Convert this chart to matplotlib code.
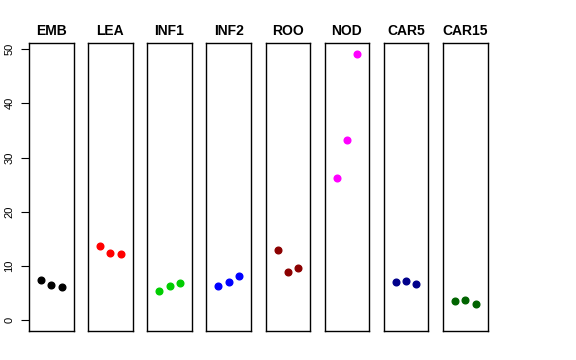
import matplotlib
matplotlib.use("Agg")
import matplotlib.pyplot as plt
import numpy as np

# tissues and their three replicate values
tissues = ["EMB", "LEA", "INF1", "INF2", "ROO", "NOD", "CAR5", "CAR15"]
emb = [7.5, 6.45, 6.15]
lea = [13.65, 12.45, 12.25]
inf1 = [5.35, 6.3, 6.95]
inf2 = [6.25, 7.1, 8.1]
roo = [12.9, 8.85, 9.7]
nod = [26.3, 33.3, 49.1]
car5 = [7.1, 7.3, 6.7]
car15 = [3.55, 3.7, 3.0]
values = [emb, lea, inf1, inf2, roo, nod, car5, car15]
colors = ["black", "red", "#00CD00", "blue", "#8B0000", "magenta", "#00008B", "#006400"]
yticks = [0, 10, 20, 30, 40, 50]

plt.rcParams["font.family"] = ["Liberation Sans", "DejaVu Sans"]

W, H = 576, 360
fig = plt.figure(figsize=(W / 100, H / 100), dpi=100)

left0 = 29
step = 59.15
pw = 44.5
top, bottom = 43, 331

for i, (name, vals, col) in enumerate(zip(tissues, values, colors)):
    x0 = left0 + i * step
    ax = fig.add_axes([x0 / W, (H - bottom) / H, pw / W, (bottom - top) / H])
    ax.plot([1, 2, 3], vals, "o", color=col, markersize=4.8, linestyle="none")
    ax.set_xlim(-0.16, 4.16)
    ax.set_ylim(-1.97, 51.1)
    ax.set_xticks([])
    for s in ax.spines.values():
        s.set_linewidth(1.0)
        s.set_color("black")
    ax.set_title(name, fontsize=10, fontweight="bold", pad=6)
    if i == 0:
        ax.set_yticks(yticks)
        ax.set_yticklabels([str(t) for t in yticks], rotation=90, va="center", fontsize=8)
        ax.tick_params(axis="y", direction="out", length=5.5, width=0.8, pad=5)
    else:
        ax.set_yticks([])

fig.savefig("out.png", dpi=100)
